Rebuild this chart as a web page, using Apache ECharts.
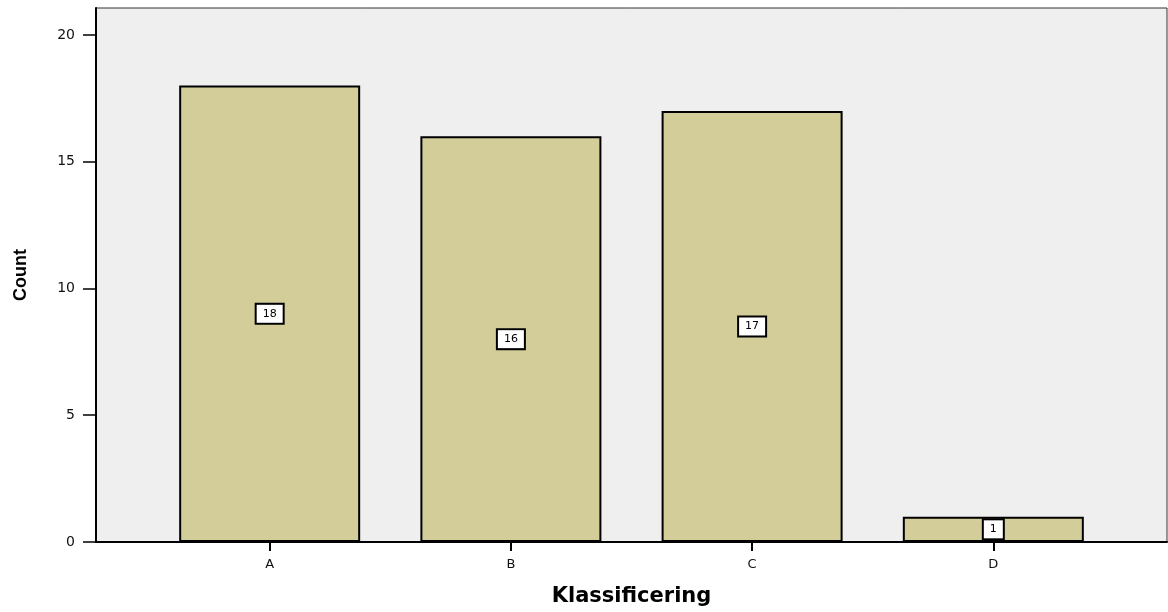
<!DOCTYPE html>
<html>
<head>
<meta charset="utf-8">
<title>Klassificering</title>
<script src="https://cdn.jsdelivr.net/npm/echarts@6/dist/echarts.min.js"></script>
<style>
  html, body { margin: 0; padding: 0; background: #ffffff; }
  #chart { width: 1168px; height: 612px; }
</style>
</head>
<body>
<div id="chart"></div>
<script>
// Categories and counts
const categories = ['A', 'B', 'C', 'D'];
const counts = [18, 16, 17, 1];
const yTicks = [0, 5, 10, 15, 20];

const positions = categories.map((_, i) => i);
const barData = counts.map((v, i) => [positions[i], v]);

const chart = echarts.init(document.getElementById('chart'));
const font = '"DejaVu Sans", "Liberation Sans", Arial, sans-serif';

chart.setOption({
  animation: false,
  backgroundColor: '#ffffff',
  grid: {
    left: 96, right: 1, top: 8, bottom: 69,
    show: true,
    backgroundColor: '#efefef',
    borderColor: '#333333',
    borderWidth: 1
  },
  xAxis: {
    type: 'value',
    min: -0.72,
    max: categories.length - 1 + 0.72,
    name: 'Klassificering',
    nameLocation: 'middle',
    nameGap: 44,
    nameTextStyle: { fontFamily: font, fontWeight: 'bold', fontSize: 21, color: '#000' },
    axisLine: { show: true, onZero: false, lineStyle: { color: '#000', width: 2 } },
    axisTick: { show: true, customValues: positions, length: 9, lineStyle: { color: '#000', width: 2 } },
    axisLabel: {
      customValues: positions,
      formatter: v => categories[Math.round(v)],
      fontFamily: font, fontSize: 13, color: '#111', margin: 16
    },
    splitLine: { show: false }
  },
  yAxis: {
    type: 'value',
    min: 0,
    max: 21.06,
    name: 'Count',
    nameLocation: 'middle',
    nameGap: 66,
    nameRotate: 90,
    nameTextStyle: { fontFamily: '"Liberation Sans", Arial, sans-serif', fontWeight: 'bold', fontSize: 18, color: '#000' },
    axisLine: { show: true, onZero: false, lineStyle: { color: '#000', width: 2 } },
    axisTick: { show: true, inside: false, customValues: yTicks, length: 13, lineStyle: { color: '#000', width: 1.5 } },
    axisLabel: {
      customValues: yTicks,
      fontFamily: font, fontSize: 14, color: '#111', margin: 21
    },
    splitLine: { show: false }
  },
  series: [{
    type: 'bar',
    data: barData,
    barWidth: 181,
    itemStyle: { color: '#d3ce99', borderColor: '#000', borderWidth: 2 },
    label: {
      show: true,
      position: 'inside',
      formatter: p => String(p.value[1]),
      fontFamily: font,
      fontSize: 11,
      color: '#000',
      backgroundColor: '#ffffff',
      borderColor: '#000',
      borderWidth: 2,
      padding: [4, 6, 3, 6]
    }
  }]
});
</script>
</body>
</html>
